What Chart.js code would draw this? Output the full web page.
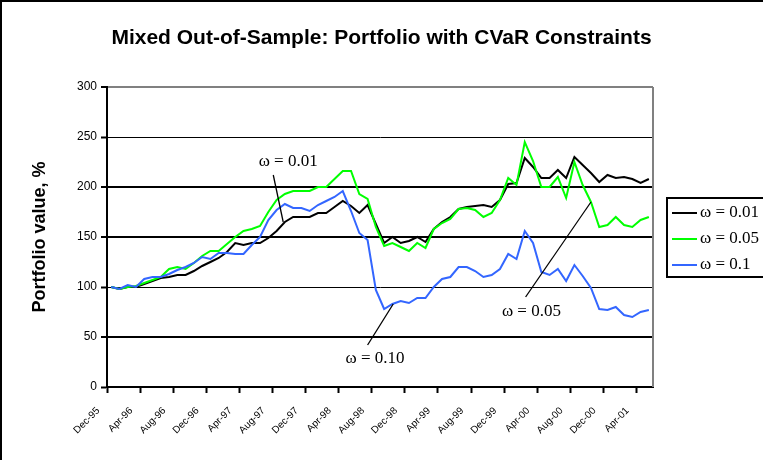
<!DOCTYPE html>
<html><head><meta charset="utf-8">
<script src="https://cdn.jsdelivr.net/npm/chart.js@4.4.1/dist/chart.umd.min.js"></script>
<style>html,body{margin:0;padding:0;background:#fff;overflow:hidden}#wrap{width:763px;height:460px;position:relative}</style>
</head><body><div id="wrap"><canvas id="c" width="763" height="460"></canvas></div>
<script>
const months = ['Dec-95','Jan-96','Feb-96','Mar-96','Apr-96','May-96','Jun-96','Jul-96','Aug-96','Sep-96','Oct-96','Nov-96',
'Dec-96','Jan-97','Feb-97','Mar-97','Apr-97','May-97','Jun-97','Jul-97','Aug-97','Sep-97','Oct-97','Nov-97',
'Dec-97','Jan-98','Feb-98','Mar-98','Apr-98','May-98','Jun-98','Jul-98','Aug-98','Sep-98','Oct-98','Nov-98',
'Dec-98','Jan-99','Feb-99','Mar-99','Apr-99','May-99','Jun-99','Jul-99','Aug-99','Sep-99','Oct-99','Nov-99',
'Dec-99','Jan-00','Feb-00','Mar-00','Apr-00','May-00','Jun-00','Jul-00','Aug-00','Sep-00','Oct-00','Nov-00',
'Dec-00','Jan-01','Feb-01','Mar-01','Apr-01','May-01'];

const omega001 = [100,98,100,100,103,106,109,110,112,112,116,121,125,129,135,144,142,144,144,149,156,165,170,170,170,174,174,180,186,181,174,182,163,144,150,144,146,150,145,158,165,170,178,180,181,182,180,187,203,204,229,220,209,209,217,209,230,222,214,205,212,209,210,208,204,208];
const omega005 = [100,98,100,101,104,107,110,118,120,118,124,131,136,136,143,150,156,158,161,175,187,193,196,196,196,200,200,208,216,216,193,188,160,141,144,140,136,144,139,158,164,168,178,179,177,170,174,187,209,202,245,226,200,200,210,189,225,202,185,160,162,170,162,160,167,170];
const omega010 = [100,98,102,100,108,110,110,113,117,120,124,130,128,134,134,133,133,142,150,167,177,183,179,179,176,182,186,190,196,176,154,147,97,78,83,86,84,89,89,100,108,110,120,120,116,110,112,118,133,128,156,144,115,112,118,106,122,111,99,78,77,80,72,70,75,77];

const seriesNames = ['\u03c9 = 0.01','\u03c9 = 0.05','\u03c9 = 0.1'];
const seriesColors = ['#000000','#00ff00','#3366ff'];
const yTicks = [0,50,100,150,200,250,300];
const chartTitle = 'Mixed Out-of-Sample: Portfolio with CVaR Constraints';
const yTitle = 'Portfolio value, %';

// annotation callouts in data coordinates (category index, value)
const callouts = [
  {text:'\u03c9 = 0.01', tx:21.4, ty:225, x1:19.6, y1:212, x2:20.8, y2:165},
  {text:'\u03c9 = 0.10', tx:31.9, ty:28,  x1:31.0, y1:42,  x2:34.1, y2:83},
  {text:'\u03c9 = 0.05', tx:50.8, ty:75,  x1:50.1, y1:90,  x2:58,   y2:185}
];

const serif = '17px "Liberation Serif", "Times New Roman", serif';

const deco = {
  id:'deco',
  beforeDraw(chart){
    const c = chart.ctx;
    c.save(); c.fillStyle='#fff'; c.fillRect(0,0,chart.width,chart.height);
    c.strokeStyle='#000'; c.lineWidth=2;
    c.beginPath(); c.moveTo(0,1); c.lineTo(chart.width,1); c.moveTo(1,0); c.lineTo(1,chart.height); c.stroke();
    c.restore();
  },
  beforeDatasetsDraw(chart){
    const c = chart.ctx, a = chart.chartArea;
    c.save(); c.strokeStyle='#808080'; c.lineWidth=2;
    c.beginPath(); c.moveTo(a.right, a.top); c.lineTo(a.right, a.bottom); c.stroke();
    c.restore();
  },
  afterDatasetsDraw(chart){
    const c = chart.ctx, xs = chart.scales.x, ys = chart.scales.y;
    c.save();
    c.strokeStyle='#000'; c.lineWidth=1.3;
    c.fillStyle='#000';
    c.font = serif;
    c.textAlign='center'; c.textBaseline='middle';
    callouts.forEach(o=>{
      c.beginPath();
      c.moveTo(xs.getPixelForValue(o.x1), ys.getPixelForValue(o.y1));
      c.lineTo(xs.getPixelForValue(o.x2), ys.getPixelForValue(o.y2));
      c.stroke();
      c.fillText(o.text, xs.getPixelForValue(o.tx), ys.getPixelForValue(o.ty));
    });
    // legend
    const lx = 667, ly = 198, lw = 110, lh = 79;
    c.lineWidth=2; c.strokeStyle='#000';
    c.strokeRect(lx, ly, lw, lh);
    c.textAlign='left';
    chart.data.datasets.forEach((d,i)=>{
      const yy = ly + 15 + i*26;
      c.strokeStyle = d.borderColor; c.lineWidth = 2;
      c.beginPath(); c.moveTo(lx+5, yy); c.lineTo(lx+30, yy); c.stroke();
      c.fillStyle='#000';
      c.fillText(d.label, lx+33, yy);
    });
    c.restore();
  }
};

const sansFont = '"Liberation Sans", Arial, sans-serif';

new Chart(document.getElementById('c'), {
  type:'line',
  data:{
    labels: months,
    datasets:[
      {label:seriesNames[0], data:omega001, borderColor:seriesColors[0], backgroundColor:seriesColors[0], borderWidth:2, pointRadius:0, tension:0, order:3},
      {label:seriesNames[1], data:omega005, borderColor:seriesColors[1], backgroundColor:seriesColors[1], borderWidth:2, pointRadius:0, tension:0, order:2},
      {label:seriesNames[2], data:omega010, borderColor:seriesColors[2], backgroundColor:seriesColors[2], borderWidth:2, pointRadius:0, tension:0, order:1}
    ]
  },
  options:{
    responsive:false, animation:false, devicePixelRatio:1,
    layout:{padding:{left:0,right:0,top:0,bottom:0}},
    plugins:{
      legend:{display:false},
      tooltip:{enabled:false},
      title:{display:true, text:chartTitle, color:'#000', font:{family:sansFont, size:21, weight:'bold', lineHeight:1.2}, padding:{top:25.4, bottom:36.4}}
    },
    scales:{
      x:{
        type:'category', offset:true,
        grid:{display:true, drawOnChartArea:false, drawTicks:true, tickLength:6, offset:true,
          tickColor:(ctx)=> (ctx.index % 4 === 0 ? '#000' : 'rgba(0,0,0,0)'), tickWidth:2},
        border:{display:true, color:'#000', width:2},
        ticks:{autoSkip:false, minRotation:45, maxRotation:45, color:'#000', padding:12, labelOffset:-13,
          font:{family:sansFont, size:10},
          callback:function(v,i){ return i % 4 === 0 ? this.getLabelForValue(v) : ''; }},
        afterFit:(s)=>{ s.height = 73; }
      },
      y:{
        min:0, max:300,
        afterBuildTicks:(s)=>{ s.ticks = yTicks.map(v=>({value:v})); },
        grid:{color:(ctx)=> (ctx.tick && ctx.tick.value===300 ? '#808080' : '#000'),
              lineWidth:(ctx)=> (ctx.tick && [50,150,200,300].includes(ctx.tick.value) ? 2 : 1),
              tickColor:'#000', tickLength:6, tickWidth:2},
        border:{display:true, color:'#000', width:2},
        ticks:{color:'#000', padding:4, font:{family:sansFont, size:12}},
        title:{display:true, text:yTitle, color:'#000', font:{family:sansFont, size:18, weight:'bold', lineHeight:1.2}, padding:{top:29, bottom:0}},
        afterFit:(s)=>{ s.width = 107; }
      },
      yRight:{
        position:'right', display:true, min:0, max:1,
        grid:{display:false, drawTicks:false}, border:{display:false},
        ticks:{display:false},
        afterFit:(s)=>{ s.width = 110; }
      }
    }
  },
  plugins:[deco]
});
</script></body></html>
